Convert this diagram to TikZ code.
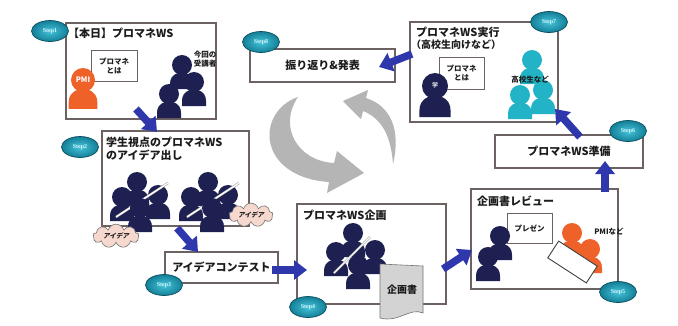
\documentclass[tikz,border=0pt]{standalone}
\usepackage{fontspec}
\newfontfamily\jp{Noto Sans CJK JP}
\newfontfamily\jpsl{Noto Sans CJK JP}[FakeSlant=0.25]
\setmainfont{Liberation Serif}
\usetikzlibrary{shapes.geometric,shapes.symbols,arrows.meta}

\definecolor{navy}{HTML}{1D2050}
\definecolor{pmiorange}{HTML}{EE6128}
\definecolor{hsteal}{HTML}{22B4C6}
\definecolor{boxline}{HTML}{6D6262}
\definecolor{flowblue}{HTML}{2F37AD}
\definecolor{cyclegray}{HTML}{B5B5B5}
\definecolor{cloudpink}{HTML}{F7D8CF}
\definecolor{docgray}{HTML}{D3D3D3}
\definecolor{ink}{HTML}{1C1C1C}
\definecolor{badgein}{HTML}{45C4DA}
\definecolor{badgeout}{HTML}{137F97}
\definecolor{badgerim}{HTML}{0C4F60}
\definecolor{badgetext}{HTML}{D8F4FA}

\tikzset{
  panel/.style={draw=boxline, line width=1.4pt, fill=white, inner sep=0pt},
  smallpanel/.style={draw=boxline, line width=1pt, fill=white, inner sep=0pt,
    align=center, font=\jp\bfseries\fontsize{7.5}{9}\selectfont, text=ink},
  ttl/.style={font=\jp\bfseries\fontsize{11}{13}\selectfont, text=ink, inner sep=0pt},
  lbl/.style={font=\jp\bfseries\fontsize{7.5}{9}\selectfont, text=ink, inner sep=0pt, align=center},
  badge/.style={ellipse, draw=badgerim, line width=0.7pt,
    inner color=badgein, outer color=badgeout,
    minimum width=37pt, minimum height=21pt, inner sep=0pt,
    font=\bfseries\fontsize{6}{6}\selectfont, text=badgetext},
  idea/.style={cloud, cloud puffs=9, aspect=2.4, draw=black!55, line width=0.6pt,
    fill=cloudpink, inner sep=0pt, minimum width=46pt, minimum height=19pt,
    font=\jpsl\bfseries\fontsize{6.5}{7}\selectfont, text=ink},
  flow/.style={draw=flowblue, line width=7.5pt,
    -{Triangle[width=19pt,length=13pt]}},
  paperedge/.style={draw=black!40, line width=0.5pt, double=white, double distance=1.4pt},
  person/.pic={
    \fill (0,0) circle (10);
    \fill (-4,8) .. controls (-10,10) and (-12,14) .. (-12,19) -- (-12,24)
       -- (12,24) -- (12,19) .. controls (12,14) and (10,10) .. (4,8) -- cycle;
  }
}

\begin{document}
\begin{tikzpicture}[x=1pt,y=-1pt]
\useasboundingbox (0,0) rectangle (678,325);
\fill[white] (0,0) rectangle (678,325);

% ---------- central cycle arrows ----------
\fill[cyclegray] (298,97) .. controls (255,112) and (257,177) .. (329,182)
  -- (327,193) -- (364,173) -- (337,151) -- (334,163)
  .. controls (297,161) and (278,126) .. (298,97) -- cycle;
\fill[cyclegray] (393,164) .. controls (401,130) and (391,106) .. (366,98)
  -- (368,90) -- (343,101) -- (361,119) -- (363,111)
  .. controls (381,118) and (391,135) .. (393,164) -- cycle;

% ---------- Step1 ----------
\node[panel, minimum width=150pt, minimum height=96pt] (s1) at (141,71) {};
\node[ttl, anchor=west] (t1) at (68,33) {【本日】プロマネWS};
\node[smallpanel, minimum width=46pt, minimum height=31pt] (s1info) at (114,65.5) {プロマネ\\とは};
\pic[color=pmiorange, scale=1.2] at (83,80) {person};
\node[font=\jp\bfseries\fontsize{7.5}{8}\selectfont, text=white, inner sep=0pt] (pmi) at (83,80) {PMI};
\pic[color=navy] at (182,65) {person};
\pic[color=navy] at (194,82) {person};
\pic[color=navy] at (169,94) {person};
\node[lbl] (juko) at (205,59) {今回の\\受講者};

% ---------- Step2 ----------
\node[panel, minimum width=147pt, minimum height=95pt] (s2) at (175.5,178.5) {};
\node[ttl, anchor=west] (t2a) at (106,142) {学生視点のプロマネWS};
\node[ttl, anchor=west] (t2b) at (106,155) {のアイデア出し};
\pic[color=navy] at (137,182) {person};
\pic[color=navy] at (122,197) {person};
\pic[color=navy] at (158,195) {person};
\draw[paperedge] (116,217) -- (168,183);
\pic[color=navy] at (140,208) {person};
\pic[color=navy] at (208,182) {person};
\pic[color=navy] at (191,197) {person};
\pic[color=navy] at (228,195) {person};
\draw[paperedge] (187,217) -- (239,183);
\pic[color=navy] at (212,208) {person};
\node[idea] (idea1) at (116,236) {アイデア};
\node[idea, minimum width=44pt, minimum height=18pt] (idea2) at (251,215) {アイデア};

% ---------- Step3 ----------
\node[panel, minimum width=113pt, minimum height=31pt, ttl] (s3) at (221.5,267.5) {アイデアコンテスト};

% ---------- Step4 ----------
\node[panel, minimum width=149pt, minimum height=100pt] (s4) at (371.5,254) {};
\node[ttl, anchor=west] (t4) at (303,215) {プロマネWS企画};
\pic[color=navy] at (353,233) {person};
\pic[color=navy] at (336,252) {person};
\pic[color=navy] at (375,250) {person};
\draw[paperedge] (334,273) -- (370,237);
\pic[color=navy] at (358,265) {person};
\fill[docgray, draw=black!55, line width=0.6pt] (380,264) -- (423,266) -- (423,313)
  .. controls (410,307) and (399,323) .. (380,318) -- cycle;
\node[ttl, font=\jp\bfseries\fontsize{10}{11}\selectfont] (doc) at (402,290) {企画書};

% ---------- Step5 ----------
\node[panel, minimum width=147pt, minimum height=100pt] (s5) at (544.5,239) {};
\node[ttl, anchor=west] (t5) at (477,201) {企画書レビュー};
\node[smallpanel, minimum width=45pt, minimum height=30pt] (pres) at (529.5,228) {プレゼン};
\pic[color=navy] at (500,236) {person};
\pic[color=navy] at (488,257) {person};
\pic[color=pmiorange] at (572,233) {person};
\pic[color=pmiorange] at (590,249) {person};
\node[draw=black!75, line width=0.9pt, fill=white, minimum width=46pt, minimum height=20pt,
  rotate=-33] (sheet) at (572.5,262) {};
\node[lbl] (pmietc) at (609,232) {PMIなど};

% ---------- Step6 ----------
\node[panel, minimum width=148pt, minimum height=33pt, ttl] (s6) at (569,151.5) {プロマネWS準備};

% ---------- Step7 ----------
\node[panel, minimum width=148pt, minimum height=100pt] (s7) at (484,72) {};
\node[ttl, anchor=west] (t7a) at (416,32) {プロマネWS実行};
\node[ttl, anchor=west, font=\jp\bfseries\fontsize{10}{11}\selectfont] (t7b) at (411,45) {（高校生向けなど）};
\node[smallpanel, minimum width=45pt, minimum height=32pt] (s7info) at (461.5,73) {プロマネ\\とは};
\pic[color=navy, scale=1.3] at (435,86) {person};
\node[font=\jp\bfseries\fontsize{6}{7}\selectfont, text=white!85!navy, inner sep=0pt] (gaku) at (435,85) {学};
\pic[color=hsteal] at (532,60) {person};
\pic[color=hsteal] at (543,90) {person};
\pic[color=hsteal] at (520,95) {person};
\node[lbl] (hs) at (530,80) {高校生など};

% ---------- Step8 ----------
\node[panel, minimum width=145pt, minimum height=33pt, ttl] (s8) at (322.5,65.5) {振り返り\&発表};

% ---------- step badges ----------
\node[badge] (b1) at (50,31) {Step1};
\node[badge] (b2) at (80,147) {Step2};
\node[badge] (b3) at (164,285) {Step3};
\node[badge] (b4) at (308,307) {Step4};
\node[badge] (b5) at (618,292) {Step5};
\node[badge] (b6) at (628,131) {Step6};
\node[badge] (b7) at (549,22) {Step7};
\node[badge] (b8) at (261,42) {Step8};

% ---------- flow arrows ----------
\coordinate (a12s) at (136,109);  \coordinate (a12e) at (157,132);
\coordinate (a23s) at (177,228);  \coordinate (a23e) at (198,252);
\coordinate (a34s) at (272,270);  \coordinate (a34e) at (307,270);
\coordinate (a45s) at (443,269);  \coordinate (a45e) at (472,250);
\coordinate (a56s) at (605,192);  \coordinate (a56e) at (605,161);
\coordinate (a67s) at (580,137);  \coordinate (a67e) at (555,109);
\coordinate (a78s) at (412,54);   \coordinate (a78e) at (379,67);
\draw[flow] (a12s) -- (a12e);
\draw[flow] (a23s) -- (a23e);
\draw[flow] (a34s) -- (a34e);
\draw[flow] (a45s) -- (a45e);
\draw[flow] (a56s) -- (a56e);
\draw[flow] (a67s) -- (a67e);
\draw[flow] (a78s) -- (a78e);
\end{tikzpicture}
\end{document}
